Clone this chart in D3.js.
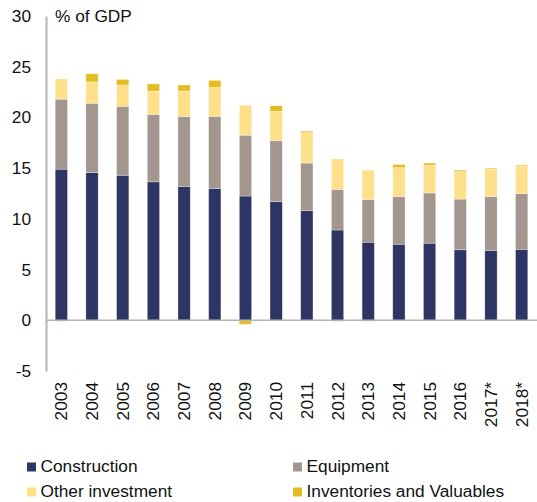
<!DOCTYPE html>
<html>
<head>
<meta charset="utf-8">
<script src="https://cdn.jsdelivr.net/npm/d3@7"></script>
<style>
body{margin:0;background:#fff;}
text{font-family:"Liberation Sans",Arial,sans-serif;fill:#111;}
</style>
</head>
<body>
<svg class="chart" width="537" height="502"></svg>
<script>
// data
const years = ["2003","2004","2005","2006","2007","2008","2009","2010","2011","2012","2013","2014","2015","2016","2017*","2018*"];
const construction = [14.9,14.55,14.3,13.65,13.2,13.0,12.25,11.7,10.8,8.9,7.7,7.5,7.6,6.95,6.9,7.0];
const equipment = [6.9,6.85,6.8,6.65,6.9,7.1,6.0,6.0,4.7,4.0,4.2,4.7,4.95,5.0,5.3,5.5];
const otherInv = [2.0,2.1,2.1,2.3,2.5,2.85,2.95,2.9,3.0,3.0,2.9,2.85,2.75,2.7,2.7,2.7];
const inventories = [-0.1,0.8,0.55,0.7,0.6,0.7,-0.4,0.55,0.15,-0.1,-0.1,0.3,0.2,0.15,0.1,0.1];
const yTicks = [-5,0,5,10,15,20,25,30];

const seriesNames = ["Construction","Equipment","Other investment","Inventories and Valuables"];
const colors = ["#2e3464","#a2968e","#fee08b","#e4bd23"];

const fontSize = "17.3px";

// table for the stack
const rows = years.map((y,i) => ({
  year: y,
  "Construction": construction[i],
  "Equipment": equipment[i],
  "Other investment": otherInv[i],
  "Inventories and Valuables": inventories[i]
}));

const stack = d3.stack().keys(seriesNames).offset(d3.stackOffsetDiverging);
const layers = stack(rows);

const svg = d3.select("svg.chart");

const x = d3.scaleBand().domain(years).range([46,537]).paddingInner(0.6).paddingOuter(0.3);
const y = d3.scaleLinear().domain([-5,30]).range([371,16]);

// bars
svg.append("g").selectAll("g")
  .data(layers)
  .enter()
  .append("g")
  .attr("fill", (d,i) => colors[i])
  .selectAll("rect")
  .data(d => d)
  .enter()
  .append("rect")
  .attr("x", d => x(d.data.year))
  .attr("width", x.bandwidth())
  .attr("y", d => y(Math.max(d[0],d[1])))
  .attr("height", d => Math.abs(y(d[0]) - y(d[1])))
  .attr("stroke", "rgba(255,255,255,0.5)")
  .attr("stroke-width", 0.6);

// zero line
svg.append("line")
  .attr("x1", 46).attr("x2", 537)
  .attr("y1", y(0)).attr("y2", y(0))
  .attr("stroke", "#b3b3b3").attr("stroke-width", 1.5);

// y axis
const yAxis = svg.append("g")
  .attr("transform", "translate(46,0)")
  .call(d3.axisLeft(y).tickValues(yTicks).tickSize(0).tickPadding(15).tickFormat(d => String(d)));
yAxis.select(".domain").attr("stroke", "#b3b3b3").attr("stroke-width", 2);
yAxis.selectAll("text").style("font-size", fontSize).attr("fill", "#111");

// x labels
svg.append("g").selectAll("text")
  .data(years)
  .enter()
  .append("text")
  .attr("transform", d => "translate(" + (x(d) + x.bandwidth()/2 + 6) + ",382) rotate(-90)")
  .attr("text-anchor", "end")
  .style("font-size", fontSize)
  .text(d => d);

// unit label
svg.append("text")
  .attr("x", 55).attr("y", 22)
  .style("font-size", fontSize)
  .text("% of GDP");

// legend
const legendPos = [[27,472],[293,472],[27,497],[293,497]];
const legend = svg.append("g").selectAll("g")
  .data(seriesNames)
  .enter()
  .append("g")
  .attr("transform", (d,i) => "translate(" + legendPos[i][0] + "," + legendPos[i][1] + ")");
legend.append("rect")
  .attr("x", 0).attr("y", -9.5)
  .attr("width", 9).attr("height", 9)
  .attr("fill", (d,i) => colors[i]);
legend.append("text")
  .attr("x", 13.5).attr("y", 0)
  .style("font-size", fontSize)
  .text(d => d);
</script>
</body>
</html>
